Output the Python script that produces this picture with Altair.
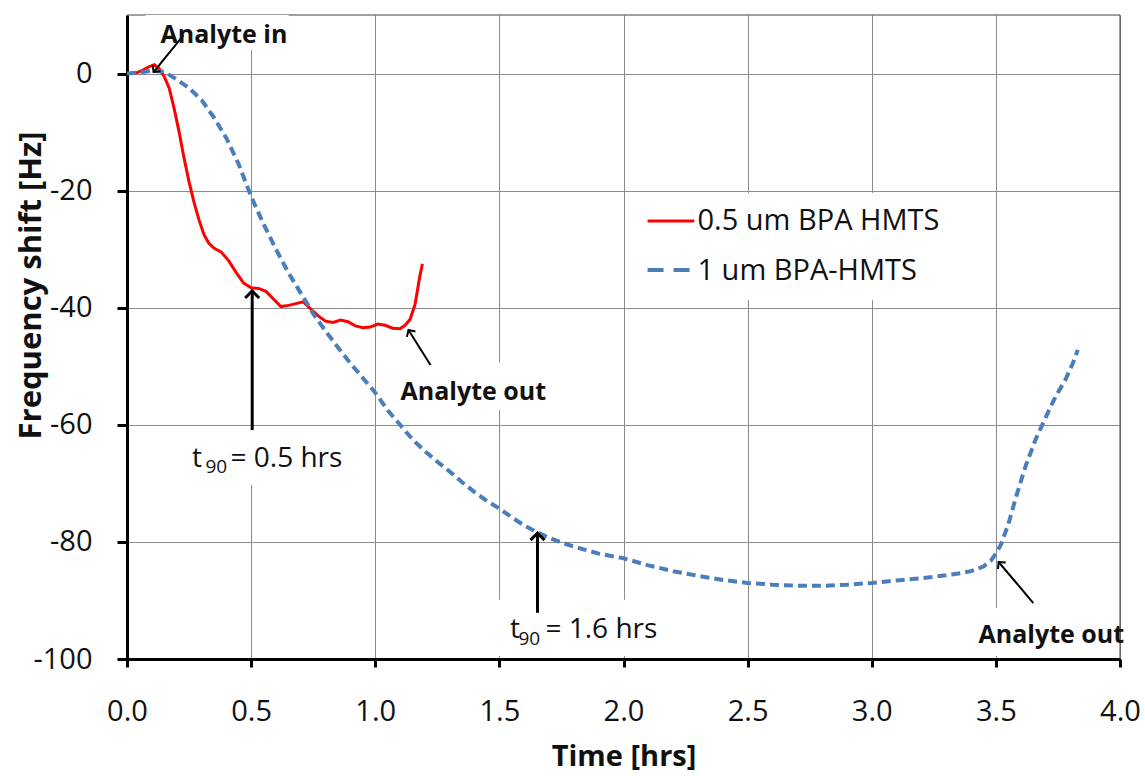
import math
import altair as alt
import pandas as pd

# ---------------- data ----------------
red_t = [0.00, 0.03, 0.06, 0.09, 0.11, 0.13, 0.15, 0.17, 0.19, 0.21, 0.23, 0.25, 0.27, 0.29,
         0.31, 0.33, 0.35, 0.38, 0.41, 0.44, 0.47, 0.50, 0.53, 0.56, 0.59, 0.62, 0.65, 0.68,
         0.71, 0.74, 0.77, 0.80, 0.83, 0.86, 0.89, 0.92, 0.95, 0.98, 1.01, 1.04, 1.07, 1.10,
         1.12, 1.14, 1.16, 1.17, 1.18, 1.19]
red_v = [0.0, 0.0, 0.5, 1.2, 1.5, 0.8, -0.5, -2.5, -6.0, -10.0, -14.5, -18.5, -22.0, -25.0,
         -27.5, -29.0, -29.8, -30.5, -32.0, -34.0, -35.8, -36.6, -36.7, -37.2, -38.5, -39.8, -39.6, -39.3,
         -39.0, -40.2, -41.4, -42.3, -42.5, -42.1, -42.4, -43.1, -43.4, -43.3, -42.8, -43.0, -43.5, -43.6,
         -43.0, -42.0, -39.5, -37.0, -34.5, -32.5]

blue_t = [0.00, 0.05, 0.10, 0.15, 0.20, 0.25, 0.30, 0.35, 0.40, 0.45, 0.50, 0.55, 0.60, 0.65,
          0.70, 0.75, 0.80, 0.85, 0.90, 0.95, 1.00, 1.05, 1.10, 1.15, 1.20, 1.25, 1.30, 1.35,
          1.40, 1.45, 1.50, 1.55, 1.60, 1.65, 1.70, 1.75, 1.80, 1.85, 1.90, 1.95, 2.00, 2.10,
          2.20, 2.30, 2.40, 2.50, 2.60, 2.70, 2.80, 2.90, 3.00, 3.10, 3.20, 3.30, 3.35, 3.40,
          3.45, 3.48, 3.50, 3.52, 3.55, 3.58, 3.62, 3.66, 3.70, 3.74, 3.78, 3.81, 3.83]
blue_v = [0.0, 0.2, 0.5, 0.3, -1.0, -2.5, -4.5, -7.5, -11.0, -15.5, -21.0, -25.7, -30.0, -34.0,
          -37.5, -41.0, -44.0, -46.8, -49.5, -52.0, -54.5, -57.5, -60.0, -62.5, -64.5, -66.3, -68.0, -69.8,
          -71.5, -73.0, -74.3, -75.8, -77.2, -78.3, -79.3, -80.1, -80.8, -81.4, -82.0, -82.4, -82.8, -84.0,
          -85.0, -85.8, -86.5, -87.0, -87.3, -87.5, -87.5, -87.3, -87.0, -86.6, -86.2, -85.7, -85.4, -85.0,
          -84.2, -83.2, -82.0, -80.5, -77.0, -72.5, -67.0, -62.5, -58.8, -55.2, -52.3, -49.5, -47.2]

series_names = ["0.5 um BPA HMTS", "1 um BPA-HMTS"]
x_ticks = [0.0, 0.5, 1.0, 1.5, 2.0, 2.5, 3.0, 3.5, 4.0]
y_ticks = [-100, -80, -60, -40, -20, 0]

# ---------------- layout ----------------
W, H = 993, 644
X_DOM = [0, 4]
Y_DOM = [-100, 10]
PX_X = W / (X_DOM[1] - X_DOM[0])
PX_Y = H / (Y_DOM[1] - Y_DOM[0])
FONT = "Open Sans"

xs = alt.Scale(domain=X_DOM, nice=False, zero=False)
ys = alt.Scale(domain=Y_DOM, nice=False, zero=False)

xaxis = alt.Axis(values=x_ticks, format=".1f", title="Time [hrs]", grid=True, labelFlush=False,
                 gridColor="#8c8c8c", gridWidth=1, domainColor="black", domainWidth=3,
                 tickColor="black", tickWidth=3, tickSize=8, labelFont=FONT, labelFontSize=29,
                 labelColor="#111", labelPadding=30, titleFont=FONT, titleFontSize=29,
                 titleFontWeight="bold", titleColor="#111", titleBaseline="alphabetic", titleY=106)
yaxis = alt.Axis(values=y_ticks, title="Frequency shift [Hz]", grid=True, labelFlush=False,
                 labelExpr="datum.value < 0 ? '-' + (-datum.value) : '' + datum.value",
                 gridColor="#8c8c8c", gridWidth=1, domainColor="black", domainWidth=3,
                 tickColor="black", tickWidth=3, tickSize=10, labelFont=FONT, labelFontSize=29,
                 labelColor="#111", labelPadding=25, titleFont=FONT, titleFontSize=31,
                 titleFontWeight="bold", titleColor="#111", titleAngle=270,
                 titleBaseline="alphabetic", titleAlign="center", titleX=-87, titleY=270)


def X(f):
    return alt.X(f, type="quantitative", scale=xs, axis=xaxis)


def Y(f):
    return alt.Y(f, type="quantitative", scale=ys, axis=yaxis)


red_df = pd.DataFrame({"t": red_t, "v": red_v, "s": series_names[0]})
blue_df = pd.DataFrame({"t": blue_t, "v": blue_v, "s": series_names[1]})

# plot border (top and right)
border_df = pd.DataFrame({"t": [X_DOM[0], X_DOM[1]], "t2": [X_DOM[1], X_DOM[1]],
                          "v": [Y_DOM[1], Y_DOM[0]], "v2": [Y_DOM[1], Y_DOM[1]]})
border = alt.Chart(border_df).mark_rule(color="#404040", strokeWidth=1).encode(
    x=X("t"), x2="t2", y=Y("v"), y2="v2")

# white boxes behind annotations
box_df = pd.DataFrame({
    "t": [0.0745, 1.0816, 0.2357, 1.4844, 3.414, 2.028],
    "t2": [0.651, 1.706, 0.90, 2.169, 3.995, 3.478],
    "v": [10.0, -49.4, -60.9, -89.9, -91.3, -20.4],
    "v2": [4.0, -57.5, -70.3, -99.5, -99.5, -38.7],
})
boxes = alt.Chart(box_df).mark_rect(color="white").encode(x=X("t"), x2="t2", y=Y("v"), y2="v2")

red_line = alt.Chart(red_df).mark_line(color="#ff0000", strokeWidth=3).encode(x=X("t"), y=Y("v"))
blue_line = alt.Chart(blue_df).mark_line(color="#4a7ebb", strokeWidth=4, strokeDash=[9, 5]).encode(
    x=X("t"), y=Y("v"))

# arrows: tail -> head
arr_tail_t = [0.2276, 1.2226, 3.651, 0.5043, 1.6536]
arr_tail_v = [6.58, -49.78, -90.44, -60.9, -92.1]
arr_head_t = [0.107, 1.1339, 3.511, 0.5043, 1.6536]
arr_head_v = [0.26, -43.8, -83.43, -37.14, -78.5]
arr_w = [2, 2, 2, 3, 3]
arr_size = [100, 100, 100, 196, 196]
angles = []
for tt, tv, ht, hv in zip(arr_tail_t, arr_tail_v, arr_head_t, arr_head_v):
    dx = (ht - tt) * PX_X
    dy = -(hv - tv) * PX_Y
    angles.append(math.degrees(math.atan2(dx, -dy)) % 360)
arr_df = pd.DataFrame({"t": arr_tail_t, "v": arr_tail_v, "t2": arr_head_t, "v2": arr_head_v,
                       "w": arr_w, "sz": arr_size, "ang": angles})
arrow_lines = alt.Chart(arr_df).mark_rule(color="black").encode(
    x=X("t"), x2="t2", y=Y("v"), y2="v2", strokeWidth=alt.StrokeWidth("w:Q", scale=None))
arrow_heads = alt.Chart(arr_df).mark_point(shape="M-1,1L0,0L1,1", filled=False, color="black",
                                           opacity=1, strokeJoin="miter").encode(
    x=X("t2"), y=Y("v2"), size=alt.Size("sz:Q", scale=None),
    angle=alt.Angle("ang:Q", scale=None), strokeWidth=alt.StrokeWidth("w:Q", scale=None))

# bold annotation labels
bold_df = pd.DataFrame({"t": [0.135, 1.1017, 3.43], "v": [5.22, -55.76, -97.27],
                        "label": ["Analyte in", "Analyte out", "Analyte out"]})
bold_text = alt.Chart(bold_df).mark_text(font=FONT, fontSize=25, fontWeight="bold", align="left",
                                         baseline="alphabetic", color="#111").encode(
    x=X("t"), y=Y("v"), text="label")

# t90 labels (main text and subscripts)
reg_df = pd.DataFrame({
    "t": [0.262, 0.4169, 1.543, 1.6856],
    "v": [-67.2, -67.2, -96.41, -96.41],
    "label": ["t", "= 0.5 hrs", "t", "= 1.6 hrs"],
})
reg_text = alt.Chart(reg_df).mark_text(font=FONT, fontSize=28, align="left", baseline="alphabetic",
                                       color="#111").encode(x=X("t"), y=Y("v"), text="label")
sub_df = pd.DataFrame({"t": [0.3162, 1.577], "v": [-68.3, -97.6], "label": ["90", "90"]})
sub_text = alt.Chart(sub_df).mark_text(font=FONT, fontSize=19, align="left", baseline="alphabetic",
                                       color="#111").encode(x=X("t"), y=Y("v"), text="label")

# manual legend
leg_df = pd.DataFrame({"t": [2.097, 2.097], "t2": [2.285, 2.285], "v": [-25.19, -33.56],
                       "tt": [2.298, 2.298], "vt": [-26.72, -35.26], "label": series_names})
leg_red = alt.Chart(leg_df.iloc[[0]]).mark_rule(color="#ff0000", strokeWidth=3).encode(
    x=X("t"), x2="t2", y=Y("v"))
leg_blue = alt.Chart(leg_df.iloc[[1]]).mark_rule(color="#4a7ebb", strokeWidth=4,
                                                 strokeDash=[16, 10]).encode(
    x=X("t"), x2="t2", y=Y("v"))
leg_text = alt.Chart(leg_df).mark_text(font=FONT, fontSize=29, align="left", baseline="alphabetic",
                                       color="#111").encode(x=X("tt"), y=Y("vt"), text="label")

chart = alt.layer(
    border, boxes, red_line, blue_line, arrow_lines, arrow_heads,
    bold_text, reg_text, sub_text, leg_red, leg_blue, leg_text,
).properties(
    width=W, height=H,
    padding={"left": 127, "top": 15, "right": 25, "bottom": 117},
    autosize=alt.AutoSizeParams(type="none"),
    background="white",
).configure_view(strokeWidth=0)

chart.save("out.html", embed_options={"renderer": "svg", "actions": False})
